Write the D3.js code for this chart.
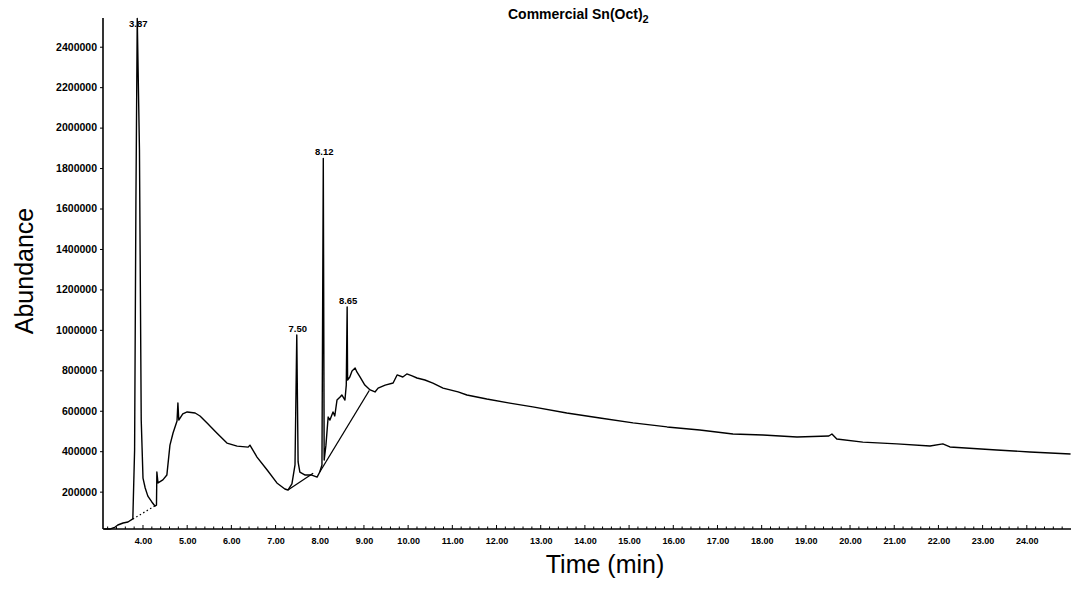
<!DOCTYPE html>
<html>
<head>
<meta charset="utf-8">
<script src="https://cdn.jsdelivr.net/npm/d3@7"></script>
<style>
html,body{margin:0;padding:0;background:#fff;}
svg{display:block;}
text{font-family:"Liberation Sans",Arial,Helvetica,sans-serif;fill:#000;}
</style>
</head>
<body>
<svg id="chart" width="1071" height="600"></svg>
<script>
// ---- data ----
const times = [3.12,3.25,3.37,3.43,3.55,3.66,3.77,3.81,3.84,3.87,3.92,3.96,4.00,4.05,4.11,4.20,4.27,
  4.305,4.314,4.34,4.45,4.54,4.61,4.68,4.77,4.79,4.81,4.90,5.00,5.18,5.29,5.45,5.67,5.90,6.13,6.38,6.42,
  6.58,6.81,7.03,7.21,7.28,7.37,7.44,7.48,7.51,7.55,7.67,7.82,7.94,8.00,8.05,8.08,8.10,8.14,8.19,8.23,
  8.30,8.34,8.39,8.46,8.50,8.57,8.60,8.62,8.63,8.68,8.73,8.80,8.84,8.91,9.02,9.14,9.25,9.32,9.48,9.66,
  9.75,9.88,9.97,10.09,10.20,10.38,10.56,10.79,11.13,11.33,11.78,12.30,12.82,13.59,14.34,15.09,15.86,
  16.60,17.35,18.03,18.80,19.52,19.59,19.70,20.29,21.06,21.81,22.10,22.26,23.32,24.07,24.99];
const abundance = [15000,15000,25000,35000,45000,50000,65000,405000,1640000,2540000,1890000,554000,267000,218000,178000,149000,129000,
  133000,297000,243000,258000,282000,430000,490000,549000,638000,554000,584000,594000,589000,574000,539000,490000,440000,425000,420000,430000,
  371000,307000,243000,213000,208000,238000,332000,975000,347000,297000,282000,282000,272000,297000,332000,1848000,356000,430000,569000,554000,
  594000,574000,653000,668000,678000,653000,727000,1113000,752000,767000,797000,811000,792000,767000,727000,703000,693000,712000,727000,737000,
  777000,767000,782000,772000,762000,752000,737000,712000,693000,678000,658000,638000,619000,589000,564000,540000,520000,
  505000,485000,480000,470000,475000,485000,460000,445000,436000,426000,436000,421000,406000,396000,386000];

// integration baselines drawn by the data system
const baselineStartT = [3.77, 7.28, 8.00];
const baselineStartV = [65000, 208000, 297000];
const baselineEndT   = [4.27, 7.85, 9.12];
const baselineEndV   = [129000, 291000, 700000];
const baselineDotted = [true, false, false];

// labelled peaks
const peakLabels = ["3.87","7.50","8.12","8.65"];
const peakTimes  = [3.87, 7.48, 8.08, 8.62];
const peakValues = [2540000, 975000, 1848000, 1113000];

// axis ticks
const xTickValues = [4,5,6,7,8,9,10,11,12,13,14,15,16,17,18,19,20,21,22,23,24];
const yTickValues = [200000,400000,600000,800000,1000000,1200000,1400000,1600000,1800000,2000000,2200000,2400000];

const titleMain = "Commercial Sn(Oct)";
const titleSub = "2";
const xTitle = "Time (min)";
const yTitle = "Abundance";

// ---- drawing ----
const svg = d3.select("#chart");
const padL = 103, padR = 1071, padT = 18, padB = 529;

const x = d3.scaleLinear().domain([3.095, 25.0]).range([padL, padR]);
const y = d3.scaleLinear().domain([15300, 2542000]).range([padB, padT]);

// x axis
const xAxis = d3.axisBottom(x).tickValues(xTickValues).tickFormat(d3.format(".2f")).tickSize(0).tickPadding(9);
const gx = svg.append("g").attr("transform", `translate(0,${padB})`).call(xAxis);
gx.select(".domain").remove();
gx.selectAll("text").style("font-size","9px").style("font-weight","bold").style("font-family","'Liberation Sans',Arial,sans-serif");
// minor ticks along x axis (pointing up)
const xMinor = d3.range(3.2, 25.0, 0.2);
svg.append("g").selectAll("line").data(xMinor).join("line")
  .attr("x1", d => x(d)).attr("x2", d => x(d))
  .attr("y1", padB).attr("y2", d => Math.abs(d - Math.round(d)) < 0.01 ? padB - 4 : padB - 2.5)
  .attr("stroke","#000").attr("stroke-width",1);
svg.append("line").attr("x1", padL).attr("x2", padR).attr("y1", padB).attr("y2", padB)
  .attr("stroke","#000").attr("stroke-width",1.6);

// y axis
const yAxis = d3.axisLeft(y).tickValues(yTickValues).tickFormat(d3.format("d")).tickSize(3).tickPadding(3);
const gy = svg.append("g").attr("transform", `translate(${padL},0)`).call(yAxis);
gy.select(".domain").remove();
gy.selectAll("text").style("font-size","10.5px").style("font-weight","bold").style("font-family","'Liberation Sans',Arial,sans-serif");
gy.selectAll(".tick line").attr("stroke-width",1);
svg.append("line").attr("x1", padL).attr("x2", padL).attr("y1", padT).attr("y2", padB)
  .attr("stroke","#000").attr("stroke-width",1.6);

// baselines
baselineStartT.forEach((t0,i) => {
  svg.append("line")
    .attr("x1", x(t0)).attr("y1", y(baselineStartV[i]))
    .attr("x2", x(baselineEndT[i])).attr("y2", y(baselineEndV[i]))
    .attr("stroke","#000").attr("stroke-width", baselineDotted[i] ? 1.2 : 1.3)
    .attr("stroke-dasharray", baselineDotted[i] ? "1.5,2.5" : null);
});

// chromatogram trace
const pts = times.map((t,i) => [t, abundance[i]]);
svg.append("path").datum(pts)
  .attr("fill","none").attr("stroke","#000").attr("stroke-width",1.4).attr("stroke-linejoin","round")
  .attr("d", d3.line().x(d => x(d[0])).y(d => y(d[1])));

// peak labels
svg.append("g").selectAll("text").data(peakLabels).join("text")
  .attr("x", (d,i) => x(peakTimes[i]) + 1)
  .attr("y", (d,i) => Math.max(y(peakValues[i]) - 3, 27))
  .attr("text-anchor","middle")
  .style("font-size","9.5px").style("font-weight","bold")
  .text(d => d);

// title
const title = svg.append("text").attr("x", 508).attr("y", 19)
  .style("font-size","14px").style("font-weight","bold");
title.append("tspan").text(titleMain);
title.append("tspan").attr("dy", 4).style("font-size","11px").text(titleSub);

// axis titles
svg.append("text").attr("x", 605).attr("y", 573).attr("text-anchor","middle")
  .style("font-size","25px").text(xTitle);
svg.append("text").attr("transform","translate(33,271) rotate(-90)").attr("text-anchor","middle")
  .style("font-size","25px").text(yTitle);
</script>
</body>
</html>
